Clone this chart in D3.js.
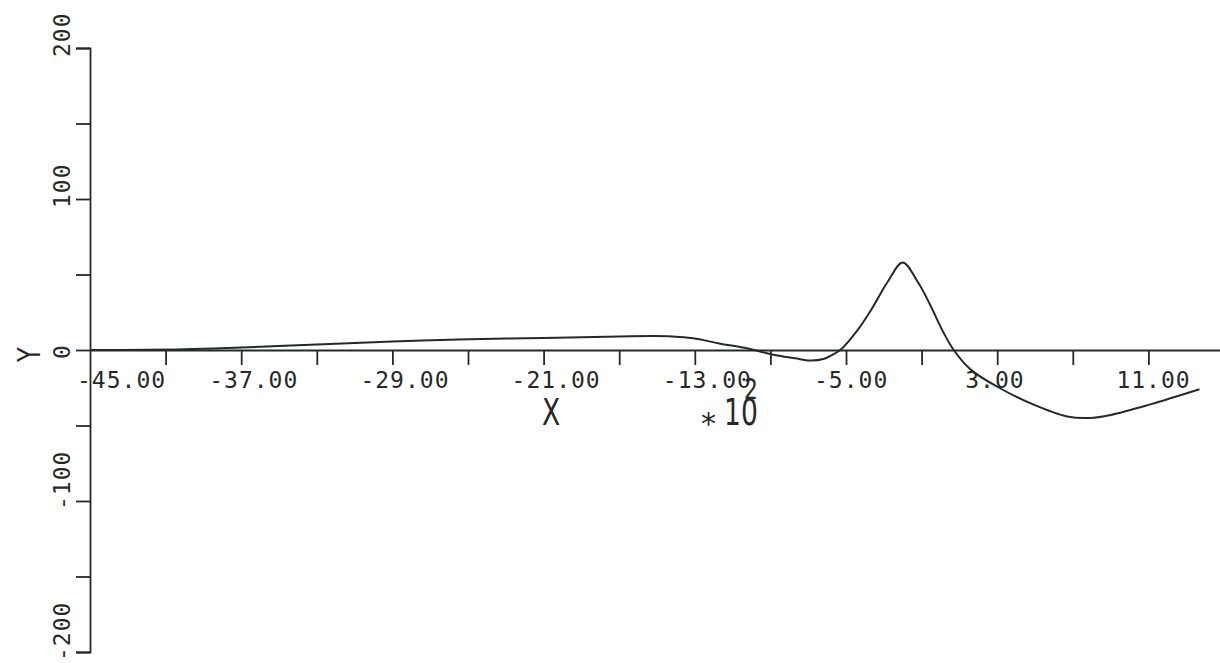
<!DOCTYPE html>
<html>
<head>
<meta charset="utf-8">
<script src="https://cdn.jsdelivr.net/npm/d3@7"></script>
<style>
  body { margin: 0; background: #fff; }
  svg text { fill: #262a26; }
</style>
</head>
<body>
<div id="chart"></div>
<script>
// curve (x in units of 10^2)
var xVals = [-45, -40, -37, -33, -29, -25.5, -21, -17, -14.2, -13, -11.7, -10.2, -8.9, -7.7, -6.9, -6.2, -5.7, -5.3,
             -4.4, -3.6, -2.8, -2.0, -1.2, -0.55, 0.1, 0.7, 1.6, 3.1, 4.9, 6.7, 7.9, 9.0, 11.1, 13.7];
var yVals = [0, 0.5, 1.7, 3.6, 5.6, 7, 8, 9, 9, 7.6, 4.3, 1, -3, -5.5, -7, -6, -3, 0,
             13, 28, 45, 58, 45, 30, 13, 0, -13, -25, -36, -44, -45, -43, -36, -26];

var xTicks = [-41, -37, -33, -29, -25, -21, -17, -13, -9, -5, -1, 3, 7, 11, 15];
var xLabels = [-45, -37, -29, -21, -13, -5, 3, 11];
var yTicks = [-200, -150, -100, -50, 0, 50, 100, 150, 200];
var yLabels = [-200, -100, 0, 100, 200];

var width = 1220,
    height = 663,
    ink = '#262a26';

var xScale = d3.scaleLinear()
                .domain([-45, 15])
                .range([90, 90 + 60 * 18.9]);

var yScale = d3.scaleLinear()
                .domain([-200, 200])
                .range([652, 48]);

var svg = d3.select('#chart').append('svg')
    .attr('width', width)
    .attr('height', height);

// y axis, ticks point left
var yAxis = d3.axisLeft(yScale)
    .tickValues(yTicks)
    .tickSize(14)
    .tickFormat('');

svg.append('g')
    .attr('transform', 'translate(' + xScale(-45) + ',0)')
    .call(yAxis)
    .call(function(g) {
        g.select('.domain').attr('stroke', ink).attr('stroke-width', 1.8);
        g.selectAll('.tick line').attr('stroke', ink).attr('stroke-width', 1.8);
    });

// x axis at y = 0, ticks point down
var xAxis = d3.axisBottom(xScale)
    .tickValues(xTicks)
    .tickSize(15)
    .tickSizeOuter(0)
    .tickFormat('');

svg.append('g')
    .attr('transform', 'translate(0,' + yScale(0) + ')')
    .call(xAxis)
    .call(function(g) {
        g.select('.domain').attr('stroke', ink).attr('stroke-width', 1.8);
        g.selectAll('.tick line').attr('stroke', ink).attr('stroke-width', 1.8);
    });

var labelFont = '"DejaVu Sans Mono", monospace';

svg.selectAll('.xlab').data(xLabels)
    .enter().append('text')
        .attr('class', 'xlab')
        .attr('x', function(d, i) {
            return i === 0 ? xScale(d) - 13 : xScale(d) - 32;
        })
        .attr('y', 388)
        .style('font-family', labelFont)
        .style('font-size', '23px')
        .style('letter-spacing', '1px')
        .text(function(d) { return d.toFixed(2); });

svg.selectAll('.ylab').data(yLabels)
    .enter().append('text')
        .attr('class', 'ylab')
        .attr('transform', function(d) {
            return 'translate(70,' + (yScale(d) + 9) + ') rotate(-90)';
        })
        .style('font-family', labelFont)
        .style('font-size', '23px')
        .style('letter-spacing', '1px')
        .text(function(d) { return d; });

// axis titles
var titleFont = '"DejaVu Sans", sans-serif';

svg.append('text')
    .attr('transform', 'translate(40,' + (yScale(0) + 12) + ') rotate(-90) scale(0.75,1)')
    .style('font-family', titleFont)
    .style('font-size', '32px')
    .text('Y');

svg.append('text')
    .attr('transform', 'translate(542,425) scale(0.7,1)')
    .style('font-family', titleFont)
    .style('font-size', '38px')
    .text('X');

svg.append('text')
    .attr('x', 701)
    .attr('y', 434)
    .style('font-family', titleFont)
    .style('font-size', '30px')
    .text('*');

svg.append('text')
    .attr('transform', 'translate(724,425) scale(0.7,1)')
    .style('font-family', titleFont)
    .style('font-size', '38px')
    .text('10');

svg.append('text')
    .attr('transform', 'translate(744,399) scale(0.75,1)')
    .style('font-family', titleFont)
    .style('font-size', '29px')
    .text('2');

// curve
var line = d3.line()
    .x(function(d, i) { return xScale(xVals[i]); })
    .y(function(d, i) { return yScale(yVals[i]); })
    .curve(d3.curveCatmullRom.alpha(0.5));

svg.append('path')
    .datum(xVals)
    .attr('d', line)
    .attr('fill', 'none')
    .attr('stroke', ink)
    .attr('stroke-width', 2);
</script>
</body>
</html>
